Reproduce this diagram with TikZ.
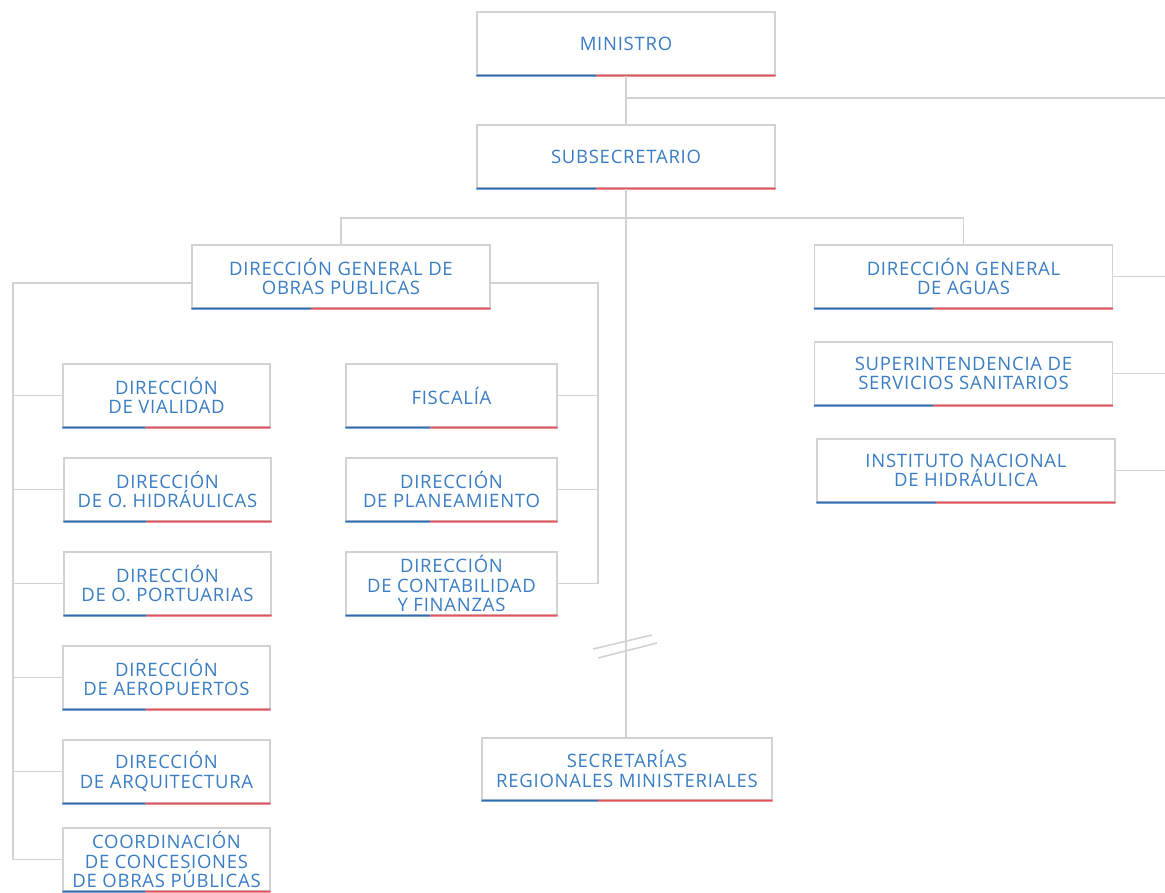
\documentclass[tikz,border=0pt]{standalone}
\usepackage{fontspec}
\usepackage{xcolor}
\usetikzlibrary{calc}
\newfontfamily\orgfont[LetterSpace=4]{Open Sans}
\definecolor{orgblue}{HTML}{3A7DC4}
\definecolor{barblue}{HTML}{2F6DB3}
\definecolor{barred}{HTML}{E2535C}
\definecolor{linegray}{HTML}{D2D2D2}
\tikzset{
  unit/.style={draw=linegray, line width=1.2pt, fill=white, text=orgblue, align=center,
    inner sep=0pt, minimum height=63pt, font=\orgfont\fontsize{18.5}{19.5}\selectfont},
  wideunit/.style={unit, minimum width=298pt},
  leftunit/.style={unit, minimum width=207pt},
  midunit/.style={unit, minimum width=211pt},
  conn/.style={draw=linegray, line width=1.6pt},
}

\begin{document}
\begin{tikzpicture}[x=1pt, y=-1pt]
                        \useasboundingbox (0,0) rectangle (1165,892);

                        \node[wideunit] (min) at (626, 43.5) {MINISTRO};
                        \node[wideunit] (sub) at (626, 156.5) {SUBSECRETARIO};
                        \node[wideunit] (dgop) at (341, 276.5) {DIRECCIÓN GENERAL DE\\OBRAS PUBLICAS};
                        \node[wideunit] (dga) at (963.5, 276.5) {DIRECCIÓN GENERAL\\DE AGUAS};
                        \node[wideunit] (siss) at (963.5, 373.5) {SUPERINTENDENCIA DE\\SERVICIOS SANITARIOS};
                        \node[wideunit] (inh) at (966, 470.5) {INSTITUTO NACIONAL\\DE HIDRÁULICA};

                        \node[leftunit] (vial) at (166.5, 395.5) {DIRECCIÓN\\DE VIALIDAD};
                        \node[leftunit] (doh) at (167.5, 489.5) {DIRECCIÓN\\DE O. HIDRÁULICAS};
                        \node[leftunit] (dop) at (167.5, 583.5) {DIRECCIÓN\\DE O. PORTUARIAS};
                        \node[leftunit] (dap) at (166.5, 677.5) {DIRECCIÓN\\DE AEROPUERTOS};
                        \node[leftunit] (darq) at (166.5, 771.5) {DIRECCIÓN\\DE ARQUITECTURA};
                        \node[leftunit] (ccop) at (166.5, 859.5) {COORDINACIÓN\\DE CONCESIONES\\DE OBRAS PÚBLICAS};

                        \node[midunit] (fisc) at (451.5, 395.5) {FISCALÍA};
                        \node[midunit] (dirplan) at (451.5, 489.5) {DIRECCIÓN\\DE PLANEAMIENTO};
                        \node[midunit] (dcyf) at (451.5, 583.5) {DIRECCIÓN\\DE CONTABILIDAD\\Y FINANZAS};

                        \node[unit, minimum width=290pt, minimum height=62pt] (seremi) at (627, 769) {SECRETARÍAS\\REGIONALES MINISTERIALES};

                        \foreach \n in {min, sub, dgop, dga, siss, inh, vial, doh, dop, dap, darq, ccop, fisc, dirplan, dcyf, seremi}{
                          \draw[barblue, line width=2.2pt] (\n.south west) -- ($(\n.south west)!0.4!(\n.south east)$);
                          \draw[barred, line width=2.2pt] ($(\n.south west)!0.4!(\n.south east)$) -- (\n.south east);
                        }

                        \coordinate (redge) at (1165, 98);
                        \coordinate (bus) at (626, 218);
                        \coordinate (lbus) at (13, 283);
                        \coordinate (rbus) at (598, 283);
                        \coordinate (brk) at (626, 648);

                        \draw[conn] (min.south) -- (sub.north);
                        \draw[conn] (min.south |- redge) -- (redge);
                        \draw[conn] (sub.south) -- (sub.south |- seremi.north);
                        \draw[conn] (dgop.north) -- (dgop.north |- bus) -- (dga.north |- bus) -- (dga.north);
                        \draw[conn] (dgop.west |- lbus) -- (lbus) -- (lbus |- ccop.west);
                        \draw[conn] (dgop.east |- rbus) -- (rbus) -- (rbus |- dcyf.east);
                        \foreach \n in {vial, doh, dop, dap, darq, ccop}
                          \draw[conn] (\n.west) -- (\n.west -| lbus);
                        \foreach \n in {fisc, dirplan, dcyf}
                          \draw[conn] (\n.east) -- (\n.east -| rbus);
                        \foreach \n in {dga, siss, inh}
                          \draw[conn] (\n.east) -- (\n.east -| redge);

                        \draw[conn] ([shift={(-33,1)}]brk) -- ([shift={(26,-13)}]brk);
                        \draw[conn] ([shift={(-28,10)}]brk) -- ([shift={(31,-5)}]brk);
                    \end{tikzpicture}
\end{document}
